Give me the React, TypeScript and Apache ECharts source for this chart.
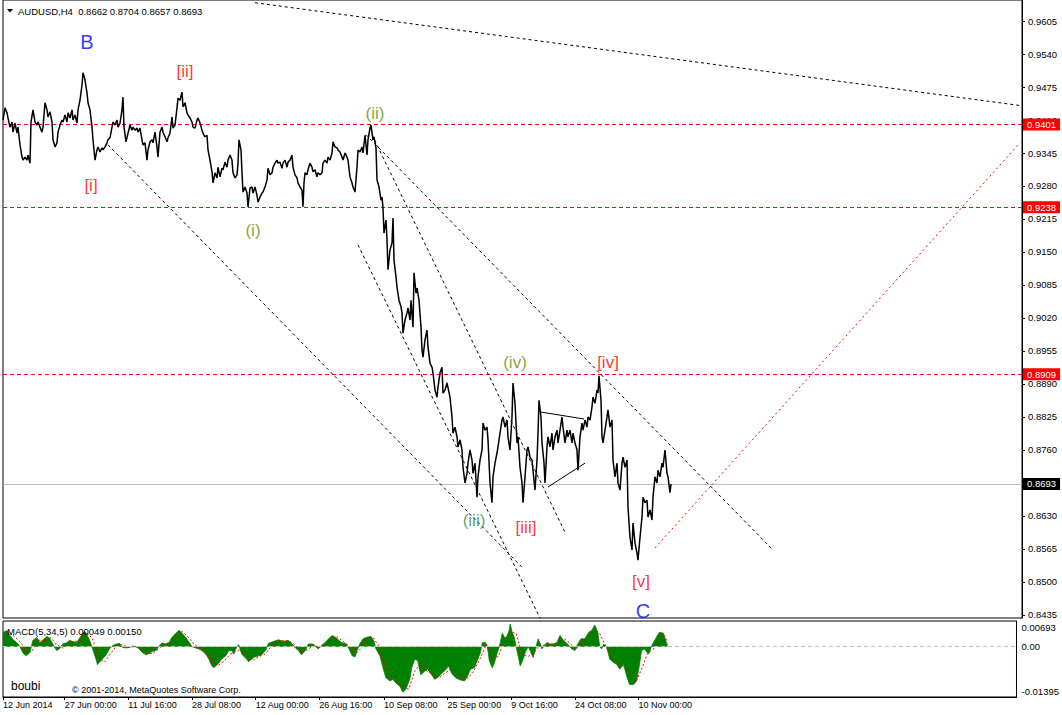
import React, { useEffect, useRef } from "react";
import * as echarts from "echarts";

const FONT = '"Liberation Sans", Arial, sans-serif';
const NARROW = '"Liberation Sans Narrow", "Liberation Sans", Arial, sans-serif';

// ---- axes ----
const xTickBars = [0, 62, 126, 190, 254, 318, 383, 447, 511, 575, 639];
const xTickLabels = [
  "12 Jun 2014", "27 Jun 00:00", "11 Jul 16:00", "28 Jul 08:00", "12 Aug 00:00",
  "26 Aug 16:00", "10 Sep 08:00", "25 Sep 00:00", "9 Oct 16:00", "24 Oct 08:00", "10 Nov 00:00",
];
const priceTicks = [
  0.8435, 0.85, 0.8565, 0.863, 0.8695, 0.876, 0.8825, 0.889, 0.8955, 0.902,
  0.9085, 0.915, 0.9215, 0.928, 0.9345, 0.941, 0.9475, 0.954, 0.9605,
];
const macdTicks = [-0.01395, 0, 0.00693];
const priceRange = [0.8429, 0.96464];
const macdRange = [-0.0154, 0.00784];

// ---- levels ----
const levelLines = [0.9401, 0.9238, 0.8909];
const lastPrice = 0.8693;

// ---- price (close path), [bar, price] ----
const priceJunJul = [
  [0, 0.941], [2, 0.9434], [4, 0.9424], [5, 0.9414], [7, 0.9396], [9, 0.9406], [10, 0.9386], [12, 0.9404],
  [14, 0.9384], [15, 0.9396], [17, 0.9361], [19, 0.9337], [20, 0.9331], [22, 0.9337], [24, 0.9331], [25, 0.9341],
  [27, 0.9325], [28, 0.9406], [30, 0.943], [32, 0.9406], [34, 0.94], [35, 0.9406], [37, 0.9396], [39, 0.9386],
  [40, 0.9396], [42, 0.9444], [44, 0.943], [45, 0.9416], [47, 0.9426], [49, 0.9406], [50, 0.9371], [52, 0.9357],
  [54, 0.9365], [55, 0.9386], [57, 0.94], [59, 0.941], [60, 0.9406], [62, 0.942], [64, 0.9406], [65, 0.9424],
  [67, 0.9414], [69, 0.943], [70, 0.941], [72, 0.942], [74, 0.9404], [75, 0.943], [77, 0.9449], [79, 0.9479],
  [80, 0.9503], [82, 0.9489], [84, 0.9463], [85, 0.9444], [87, 0.943], [89, 0.9396], [90, 0.9371], [92, 0.9331],
  [94, 0.9351], [95, 0.9357], [97, 0.9347], [99, 0.9355], [100, 0.9351], [102, 0.9357], [104, 0.9365], [105, 0.9371],
  [107, 0.9375], [109, 0.9396], [110, 0.9406], [112, 0.94], [114, 0.941], [115, 0.9396], [117, 0.9404], [119, 0.943],
  [120, 0.9455], [121, 0.9396], [123, 0.9367], [125, 0.9384], [127, 0.94], [129, 0.939], [130, 0.9396], [132, 0.939],
  [134, 0.9394], [135, 0.9386], [137, 0.9394], [139, 0.9371], [140, 0.9361], [142, 0.9365], [144, 0.9331], [145, 0.9351],
  [147, 0.9367], [149, 0.9371], [150, 0.9365], [152, 0.9386], [154, 0.9357], [155, 0.9337], [157, 0.9386], [159, 0.9396],
  [160, 0.9386], [162, 0.9377], [164, 0.9367], [165, 0.9375], [167, 0.9384], [169, 0.9416], [170, 0.9394],
];
const priceAug = [
  [172, 0.94], [174, 0.9434], [175, 0.9453], [177, 0.9449], [179, 0.9465], [180, 0.9436], [182, 0.9444], [184, 0.9424],
  [185, 0.942], [187, 0.9414], [189, 0.9406], [190, 0.9396], [192, 0.9394], [194, 0.941], [195, 0.9414], [197, 0.9404],
  [199, 0.939], [200, 0.9384], [202, 0.9377], [204, 0.938], [205, 0.9351], [207, 0.9331], [209, 0.9308], [210, 0.9286],
  [212, 0.9306], [214, 0.9296], [215, 0.9317], [217, 0.9298], [219, 0.9315], [220, 0.9312], [222, 0.9327], [224, 0.9317],
  [225, 0.9331], [227, 0.9341], [229, 0.9331], [230, 0.9306], [232, 0.9296], [234, 0.9302], [235, 0.9325], [236, 0.9371],
  [238, 0.9351], [239, 0.9306], [240, 0.9268], [242, 0.9278], [244, 0.9266], [245, 0.9239], [247, 0.9276], [249, 0.9278],
  [250, 0.9266], [252, 0.9278], [254, 0.9262], [255, 0.9248], [257, 0.9258], [259, 0.9266], [260, 0.9268], [262, 0.9278],
  [264, 0.9292], [265, 0.9315], [267, 0.9302], [269, 0.9306], [270, 0.9317], [272, 0.9325], [274, 0.9331], [275, 0.9325],
  [277, 0.9327], [279, 0.9315], [280, 0.9325], [282, 0.9331], [284, 0.9317], [285, 0.9327], [287, 0.9331], [289, 0.9341],
  [290, 0.9317], [292, 0.9302], [294, 0.9296], [295, 0.9286], [297, 0.9278], [299, 0.9272], [300, 0.9239], [301, 0.9286],
  [302, 0.9306], [304, 0.9302], [305, 0.9312], [307, 0.9325], [309, 0.9317], [310, 0.9308], [312, 0.9312], [314, 0.9298],
  [315, 0.9306], [317, 0.9302], [319, 0.9306], [320, 0.9325], [322, 0.9331], [324, 0.9325], [325, 0.9337], [327, 0.9331],
  [329, 0.9345], [330, 0.9367], [332, 0.9357], [334, 0.9355], [335, 0.9351], [337, 0.9347], [339, 0.9337], [340, 0.9331],
  [342, 0.9345], [344, 0.9337], [345, 0.9331], [347, 0.9298], [349, 0.9286], [350, 0.9278], [352, 0.9268],
];
const priceSep = [
  [354, 0.9317], [355, 0.9351], [357, 0.9347], [359, 0.9357], [360, 0.9345], [362, 0.938], [364, 0.9341], [365, 0.9371],
  [367, 0.9394], [368, 0.94], [370, 0.9371], [371, 0.9377], [373, 0.9355], [374, 0.9292], [376, 0.9278], [378, 0.9252],
  [379, 0.9258], [380, 0.9237], [381, 0.9187], [383, 0.9213], [384, 0.9174], [385, 0.9115], [387, 0.9154], [389, 0.9168],
  [390, 0.9217], [391, 0.9134], [393, 0.9101], [394, 0.9081], [396, 0.9055], [398, 0.9042], [399, 0.903], [400, 0.899],
  [402, 0.9016], [404, 0.903], [405, 0.904], [407, 0.9016], [408, 0.9055], [410, 0.9002], [411, 0.9109], [413, 0.9069],
  [414, 0.9079], [416, 0.9055], [418, 0.9002], [419, 0.8957], [420, 0.8943], [422, 0.8977], [424, 0.8996], [425, 0.8963],
  [427, 0.8931], [429, 0.8923], [430, 0.8912], [432, 0.8878], [434, 0.8864], [435, 0.8884], [437, 0.8912], [439, 0.8923],
  [440, 0.8872], [442, 0.8878], [444, 0.8892], [447, 0.8864], [449, 0.8825], [450, 0.8793], [452, 0.8805], [454, 0.8786],
  [455, 0.8766], [457, 0.878], [459, 0.876], [460, 0.8726], [462, 0.8695], [464, 0.8714], [465, 0.8734], [467, 0.876],
  [469, 0.874], [470, 0.8714], [472, 0.8734], [474, 0.8667], [475, 0.8707], [477, 0.874], [479, 0.876], [480, 0.8813],
  [482, 0.8799], [484, 0.8805], [485, 0.878], [487, 0.8695], [489, 0.8656], [490, 0.8707], [492, 0.8734], [494, 0.8754],
  [495, 0.8766], [497, 0.8793], [499, 0.8819],
];
const priceOctNov = [
  [500, 0.8825], [502, 0.8805], [504, 0.8819], [505, 0.8786], [507, 0.876], [509, 0.8825], [510, 0.8892], [512, 0.8852],
  [514, 0.8774], [515, 0.8786], [517, 0.8726], [519, 0.8695], [520, 0.8656], [522, 0.8707], [524, 0.876], [525, 0.8766],
  [527, 0.8746], [529, 0.874], [530, 0.872], [532, 0.8681], [534, 0.874], [535, 0.8793], [536, 0.8858], [538, 0.8825],
  [539, 0.8774], [541, 0.8734], [542, 0.8695], [544, 0.8766], [545, 0.8786], [547, 0.8766], [549, 0.8793], [550, 0.876],
  [552, 0.8786], [554, 0.8799], [555, 0.8774], [557, 0.8799], [559, 0.8825], [560, 0.8805], [562, 0.8774], [564, 0.8799],
  [565, 0.8786], [567, 0.8799], [569, 0.8774], [570, 0.8793], [572, 0.8774], [574, 0.876], [575, 0.872], [577, 0.8786],
  [579, 0.8813], [580, 0.8799], [582, 0.8819], [584, 0.8805], [585, 0.8825], [587, 0.8819], [589, 0.8845], [590, 0.8864],
  [592, 0.8852], [594, 0.8878], [595, 0.8872], [596, 0.8906], [598, 0.8858], [599, 0.8786], [600, 0.8774], [602, 0.8799],
  [604, 0.8825], [605, 0.8839], [607, 0.8805], [609, 0.8819], [610, 0.874], [612, 0.8707], [614, 0.8734], [615, 0.8695],
  [617, 0.8681], [619, 0.8734], [620, 0.8746], [622, 0.8726], [624, 0.874], [625, 0.8647], [627, 0.8588], [629, 0.8563],
  [630, 0.8616], [632, 0.8577], [634, 0.8557], [635, 0.8543], [637, 0.8588], [639, 0.8628], [640, 0.8667], [642, 0.8656],
  [644, 0.8661], [645, 0.8628], [647, 0.8642], [649, 0.8622], [650, 0.8667], [652, 0.8707], [654, 0.8695], [655, 0.872],
  [657, 0.8707], [659, 0.8734], [660, 0.8726], [662, 0.876], [664, 0.8714], [665, 0.8707], [667, 0.8676], [668, 0.8693],
];

// ---- MACD(5,34,5) main histogram, [bar, value] ----
const macdJunAug = [
  [0, 0.0043], [4, 0.0049], [7, 0.0034], [10, 0.0022], [14, 0.0012], [17, 0], [20, -0.0019], [23, -0.0028],
  [27, -0.0019], [30, 0.0019], [34, 0.0028], [37, 0.0012], [40, 0.002], [44, 0.0031], [47, 0.0026], [50, 0.0008],
  [54, -0.0012], [57, -0.0006], [60, 0.0008], [64, 0.0012], [67, 0.0019], [70, 0.0016], [74, 0.0012], [77, 0.0026],
  [80, 0.004], [82, 0.0047], [84, 0.0039], [87, 0.002], [90, -0.0006], [94, -0.0043], [95, -0.0055], [97, -0.0048],
  [100, -0.0038], [104, -0.0023], [107, -0.0007], [110, 0.0003], [114, 0.0008], [117, 0.001], [120, -0.0002], [124, -0.0004],
  [127, -0.0002], [130, 0.0002], [134, 0], [137, -0.0007], [140, -0.0018], [144, -0.0025], [147, -0.0021], [150, -0.0015],
  [154, -0.0011], [157, 0.0003], [160, 0.0011], [164, 0.0008], [167, 0.0013], [170, 0.0029], [174, 0.0041], [177, 0.005],
  [180, 0.0041], [184, 0.0027], [187, 0.0014], [190, 0], [194, -0.0004], [197, -0.0007], [200, -0.0012], [204, -0.0023],
  [207, -0.0038], [210, -0.0059], [212, -0.0064], [214, -0.0059], [217, -0.005], [220, -0.0038], [224, -0.0028], [227, -0.0012],
  [230, -0.0012], [232, -0.0023], [234, -0.0007], [237, 0.0006], [240, -0.0023], [245, -0.0038], [247, -0.0046], [252, -0.0033],
  [257, -0.0028], [260, -0.0025], [264, -0.0012], [267, 0.001], [272, 0.0016], [277, 0.0021], [282, 0.0016], [287, 0.0019],
  [290, 0.001], [294, -0.0004], [297, -0.0012], [300, -0.0025], [304, -0.0012], [307, 0.0008], [312, 0.0008], [315, -0.0002],
  [317, -0.0007], [320, 0.0003], [324, 0.0013], [327, 0.0023], [331, 0.0034], [335, 0.0027], [340, 0.0013], [345, 0.0008],
  [348, -0.0007], [351, -0.0028], [354, -0.0031], [356, -0.0012], [359, 0.001], [362, 0.0024], [366, 0.0029], [370, 0.0031],
  [373, 0.0016], [375, -0.0007],
];
const macdSepNov = [
  [379, -0.0028], [382, -0.0064], [385, -0.0095], [389, -0.0105], [392, -0.01], [395, -0.0111], [399, -0.0121], [402, -0.01395],
  [405, -0.0131], [409, -0.01], [411, -0.0064], [414, -0.0038], [417, -0.0043], [420, -0.0086], [424, -0.0075], [427, -0.007],
  [430, -0.0081], [434, -0.01], [437, -0.0095], [440, -0.0085], [444, -0.0074], [448, -0.0059], [451, -0.0081], [455, -0.0095],
  [460, -0.0102], [464, -0.0105], [467, -0.009], [470, -0.0069], [474, -0.0064], [477, -0.0042], [480, -0.0018], [482, 0.0013],
  [485, 0.0013], [487, 0], [489, -0.0043], [492, -0.0065], [494, -0.005], [497, -0.0018], [499, 0], [500, 0.0013],
  [502, 0.0041], [504, 0.0029], [506, 0.0027], [509, 0.005], [510, 0.00693], [512, 0.0043], [514, 0.0029], [516, -0.0002],
  [519, -0.0043], [520, -0.0059], [523, -0.0038], [525, -0.0018], [528, 0], [530, -0.0012], [533, -0.0033], [535, -0.0012],
  [538, 0.0024], [540, 0.001], [542, -0.0007], [544, 0.0003], [547, 0.0013], [550, 0.0008], [554, 0.0008], [557, 0.0013],
  [560, 0.0034], [563, 0.0021], [566, 0.0013], [570, 0], [572, -0.0007], [575, -0.0012], [578, 0.0008], [581, 0.0024],
  [585, 0.0024], [589, 0.0044], [592, 0.005], [595, 0.0066], [598, 0.0044], [600, 0], [602, -0.0007], [604, 0.0008],
  [607, -0.0002], [610, -0.0038], [614, -0.0049], [617, -0.0054], [620, -0.0069], [624, -0.0054], [627, -0.009], [630, -0.0116],
  [634, -0.0116], [637, -0.0105], [640, -0.0054], [642, -0.0012], [645, -0.0007], [649, -0.0023], [652, 0], [654, 0.0013],
  [657, 0.0029], [660, 0.0044], [664, 0.0041], [667, 0.0013], [668, 0.00049],
];
// ---- MACD signal line, [bar, value] ----
const signalJunAug = [
  [0, 0.0035], [6, 0.0045], [12, 0.003], [18, 0.0012], [24, -0.0018], [30, -0.001], [36, 0.002], [42, 0.0018],
  [48, 0.0028], [54, 0.0006], [60, -0.0004], [66, 0.0012], [72, 0.0016], [78, 0.0018], [84, 0.0043], [90, 0.0025],
  [96, -0.0035], [102, -0.0048], [108, -0.0022], [114, 0.0002], [120, 0.0006], [126, -0.0003], [132, 0], [138, -0.0004],
  [144, -0.0018], [150, -0.0022], [156, -0.0008], [162, 0.0008], [168, 0.0012], [174, 0.0032], [180, 0.0047], [186, 0.003],
  [192, 0.0008], [198, -0.0006], [204, -0.0016], [210, -0.0045], [216, -0.0058], [222, -0.0045], [228, -0.0025], [234, -0.0014],
  [240, -0.0008], [246, -0.0032], [252, -0.004], [258, -0.003], [264, -0.0022], [270, 0.0002], [276, 0.0016], [282, 0.0018],
  [288, 0.0017], [294, 0.0004], [300, -0.0015], [306, -0.001], [312, 0.0004], [318, -0.0002], [324, 0.0006], [330, 0.0024],
  [336, 0.003], [342, 0.0016], [348, 0.0002], [354, -0.0024], [360, -0.0005], [366, 0.0022], [372, 0.0028],
];
const signalSepNov = [
  [378, 0.0002], [384, -0.006], [390, -0.0095], [396, -0.0105], [402, -0.0125], [408, -0.013], [414, -0.0075], [420, -0.005],
  [426, -0.0075], [432, -0.0085], [438, -0.0095], [444, -0.0082], [450, -0.007], [456, -0.0085], [462, -0.0098], [468, -0.0095],
  [474, -0.007], [480, -0.0035], [486, 0.0008], [492, -0.0035], [498, -0.003], [504, 0.002], [510, 0.0045], [516, 0.004],
  [522, -0.0025], [528, -0.003], [534, -0.0018], [540, 0.0006], [546, 0.0002], [552, 0.0008], [558, 0.001], [564, 0.0025],
  [570, 0.001], [576, -0.0008], [582, 0.0012], [588, 0.003], [594, 0.005], [600, 0.004], [606, 0.0002], [612, -0.003],
  [618, -0.0048], [624, -0.006], [630, -0.009], [636, -0.011], [642, -0.007], [648, -0.002], [654, -0.0008], [660, 0.0025],
  [664, 0.0038], [668, 0.0015],
];

// ---- Elliott wave labels ----
const waveLabels = ["B", "[ii]", "[i]", "(i)", "(ii)", "(iv)", "[iv]", "(iii)", "[iii]", "[v]", "C"];
const waveBars = [84, 182, 88, 250, 372, 512, 605, 471, 523, 638, 640];
const wavePrices = [0.9563, 0.9505, 0.928, 0.9193, 0.9422, 0.8933, 0.8933, 0.8622, 0.8608, 0.85, 0.8442];

// ---- drawn lines [bar1, price1, bar2, price2] ----
const channelLines = [
  [252, 0.9641, 1019, 0.9438],
  [105, 0.9361, 519, 0.8529],
  [355, 0.9164, 537, 0.8429],
  [369, 0.9381, 562, 0.8598],
  [363, 0.9381, 770, 0.8563],
];
const triangleLines = [
  [537, 0.8835, 581, 0.8821],
  [545, 0.8687, 582, 0.8734],
];
const targetLine = [652, 0.8567, 1017, 0.9365];

function waveStyle(t: string) {
  if (t === "B" || t === "C") return { color: "#0000ff", fontSize: 20 };
  if (t.startsWith("[")) return { color: "#ff0000", fontSize: 17 };
  if (t === "(iii)") return { color: "#2e8b57", fontSize: 17 };
  return { color: "#5f8f00", fontSize: 17 };
}

function seg(l: number[], style: any) {
  return [
    { coord: [l[0], l[1]], lineStyle: { ...style } },
    { coord: [l[2], l[3]], lineStyle: { ...style } },
  ];
}

function buildOption() {
  const priceData = [...priceJunJul, ...priceAug, ...priceSep, ...priceOctNov];
  const macdData = [...macdJunAug, ...macdSepNov];
  const signalData = [...signalJunAug, ...signalSepNov];

  const boxLabel = (v: number, bg: string) => ({
    show: true,
    position: "end",
    distance: 1,
    formatter: v.toFixed(4),
    color: "#ffffff",
    backgroundColor: bg,
    padding: [1, 4, 1, 4],
    fontSize: 9.5,
    fontFamily: FONT,
  });

  const dotted = { color: "#000000", type: [3, 3], width: 1 };
  const solid = { color: "#000000", type: "solid", width: 1 };
  const redDot = { color: "#ff0000", type: [2, 3], width: 1 };

  const lineItems = [
    ...channelLines.map((l) => seg(l, dotted)),
    ...triangleLines.map((l) => seg(l, solid)),
    seg(targetLine, redDot),
  ];

  // one helper series per horizontal level, so each keeps its own style
  const levelSeries = levelLines.map((v, i) => ({
    name: "level" + i,
    type: "line",
    xAxisIndex: 0,
    yAxisIndex: 0,
    data: [],
    symbol: "none",
    z: 4,
    markLine: {
      silent: true,
      animation: false,
      precision: 5,
      symbol: ["none", "none"],
      lineStyle: { color: "#ff0000", type: [4, 3], width: 1, opacity: 1 },
      label: boxLabel(v, "#ff0000"),
      data: [{ yAxis: v }],
    },
  }));

  return {
    animation: false,
    textStyle: { fontFamily: FONT },
    grid: [
      { left: 3, top: 0, width: 1019, height: 618, show: true, borderColor: "#000", borderWidth: 1, backgroundColor: "#fff" },
      { left: 3, top: 621, width: 1019, height: 76, show: true, borderColor: "#000", borderWidth: 1, backgroundColor: "#fff" },
    ],
    xAxis: [
      { type: "value", gridIndex: 0, min: 0, max: 1019, show: false },
      {
        type: "value",
        gridIndex: 1,
        min: 0,
        max: 1019,
        axisLine: { show: true, onZero: false, lineStyle: { color: "#000" } },
        axisTick: { show: true, customValues: xTickBars, length: 3, lineStyle: { color: "#000" } },
        axisLabel: {
          show: true,
          customValues: xTickBars,
          formatter: (v: number) => {
            const i = xTickBars.indexOf(Math.round(v));
            return i >= 0 ? xTickLabels[i] : "";
          },
          align: "left",
          margin: 3,
          color: "#000",
          fontSize: 9,
          fontFamily: NARROW,
        },
        splitLine: { show: false },
      },
    ],
    yAxis: [
      {
        type: "value",
        gridIndex: 0,
        position: "right",
        min: priceRange[0],
        max: priceRange[1],
        axisLine: { show: true, onZero: false, lineStyle: { color: "#000" } },
        axisTick: { show: true, customValues: priceTicks, length: 3, lineStyle: { color: "#000" } },
        axisLabel: {
          show: true,
          customValues: priceTicks,
          formatter: (v: number) => v.toFixed(4),
          margin: 6,
          color: "#000",
          fontSize: 9.5,
          fontFamily: FONT,
        },
        splitLine: { show: false },
      },
      {
        type: "value",
        gridIndex: 1,
        position: "right",
        min: macdRange[0],
        max: macdRange[1],
        axisLine: { show: true, onZero: false, lineStyle: { color: "#000" } },
        axisTick: { show: false },
        axisLabel: {
          show: true,
          customValues: macdTicks,
          formatter: (v: number) => {
            if (v === 0) return "0.00";
            if (v > 0) return "{top|" + v.toFixed(5) + "}";
            return "{bot|" + v.toFixed(5) + "}";
          },
          rich: {
            top: { padding: [8, 0, 0, 0], fontSize: 9.5, fontFamily: FONT, color: "#000" },
            bot: { padding: [0, 0, 2, 0], fontSize: 9.5, fontFamily: FONT, color: "#000" },
          },
          margin: 5,
          color: "#000",
          fontSize: 9.5,
          fontFamily: FONT,
        },
        splitLine: { show: false },
      },
    ],
    series: [
      ...levelSeries,
      {
        name: "last",
        type: "line",
        xAxisIndex: 0,
        yAxisIndex: 0,
        data: [],
        symbol: "none",
        z: 4,
        markLine: {
          silent: true,
          animation: false,
          precision: 5,
          symbol: ["none", "none"],
          lineStyle: { color: "#c0c0c0", type: "solid", width: 1 },
          label: boxLabel(lastPrice, "#000000"),
          data: [{ yAxis: lastPrice }],
        },
      },
      {
        name: "AUDUSD",
        type: "line",
        xAxisIndex: 0,
        yAxisIndex: 0,
        data: priceData,
        symbol: "none",
        showSymbol: false,
        lineStyle: { color: "#000", width: 1.5 },
        z: 5,
        markLine: {
          silent: true,
          animation: false,
          precision: 5,
          symbol: ["none", "none"],
          label: { show: false },
          data: lineItems,
        },
      },
      {
        name: "waves",
        type: "scatter",
        xAxisIndex: 0,
        yAxisIndex: 0,
        symbolSize: 1,
        itemStyle: { color: "rgba(0,0,0,0)" },
        z: 6,
        data: waveLabels.map((t, i) => {
          const s = waveStyle(t);
          return {
            value: [waveBars[i], wavePrices[i]],
            label: {
              show: true,
              position: "inside",
              formatter: t,
              color: s.color,
              fontSize: s.fontSize,
              fontFamily: FONT,
            },
          };
        }),
      },
      {
        name: "MACD",
        type: "line",
        xAxisIndex: 1,
        yAxisIndex: 1,
        data: macdData,
        symbol: "none",
        showSymbol: false,
        lineStyle: { color: "#008000", width: 0.8 },
        areaStyle: { color: "#008000", opacity: 1 },
        z: 3,
        markLine: {
          silent: true,
          animation: false,
          precision: 5,
          symbol: ["none", "none"],
          label: { show: false },
          lineStyle: { color: "#c0c0c0", type: [4, 3], width: 1 },
          data: [{ yAxis: 0 }],
        },
      },
      {
        name: "Signal",
        type: "line",
        xAxisIndex: 1,
        yAxisIndex: 1,
        data: signalData,
        symbol: "none",
        showSymbol: false,
        lineStyle: { color: "#ff0000", width: 1, type: [2, 2] },
        z: 4,
      },
    ],
    graphic: [
      { type: "polygon", shape: { points: [[7, 9], [13, 9], [10, 12.5]] }, style: { fill: "#000" }, z: 10 },
      {
        type: "text",
        x: 18,
        y: 11,
        z: 10,
        style: { text: "AUDUSD,H4  0.8662 0.8704 0.8657 0.8693", fill: "#000", fontSize: 9.5, fontFamily: FONT, verticalAlign: "middle" },
      },
      {
        type: "text",
        x: 7,
        y: 631,
        z: 10,
        style: { text: "MACD(5,34,5) 0.00049 0.00150", fill: "#000", fontSize: 9.5, fontFamily: FONT, verticalAlign: "middle" },
      },
      {
        type: "text",
        x: 11,
        y: 686,
        z: 10,
        style: { text: "boubi", fill: "#000", fontSize: 12, fontFamily: FONT, verticalAlign: "middle" },
      },
      {
        type: "text",
        x: 72,
        y: 690,
        z: 10,
        style: { text: "© 2001-2014, MetaQuotes Software Corp.", fill: "#000", fontSize: 9, fontFamily: FONT, verticalAlign: "middle" },
      },
    ],
  };
}

export default function App() {
  const ref = useRef<HTMLDivElement>(null);
  useEffect(() => {
    document.body.style.margin = "0";
    const chart = echarts.init(ref.current as HTMLDivElement, undefined, { renderer: "svg" });
    chart.setOption(buildOption() as any);
    return () => chart.dispose();
  }, []);
  return <div ref={ref} style={{ width: 1062, height: 715 }} />;
}
